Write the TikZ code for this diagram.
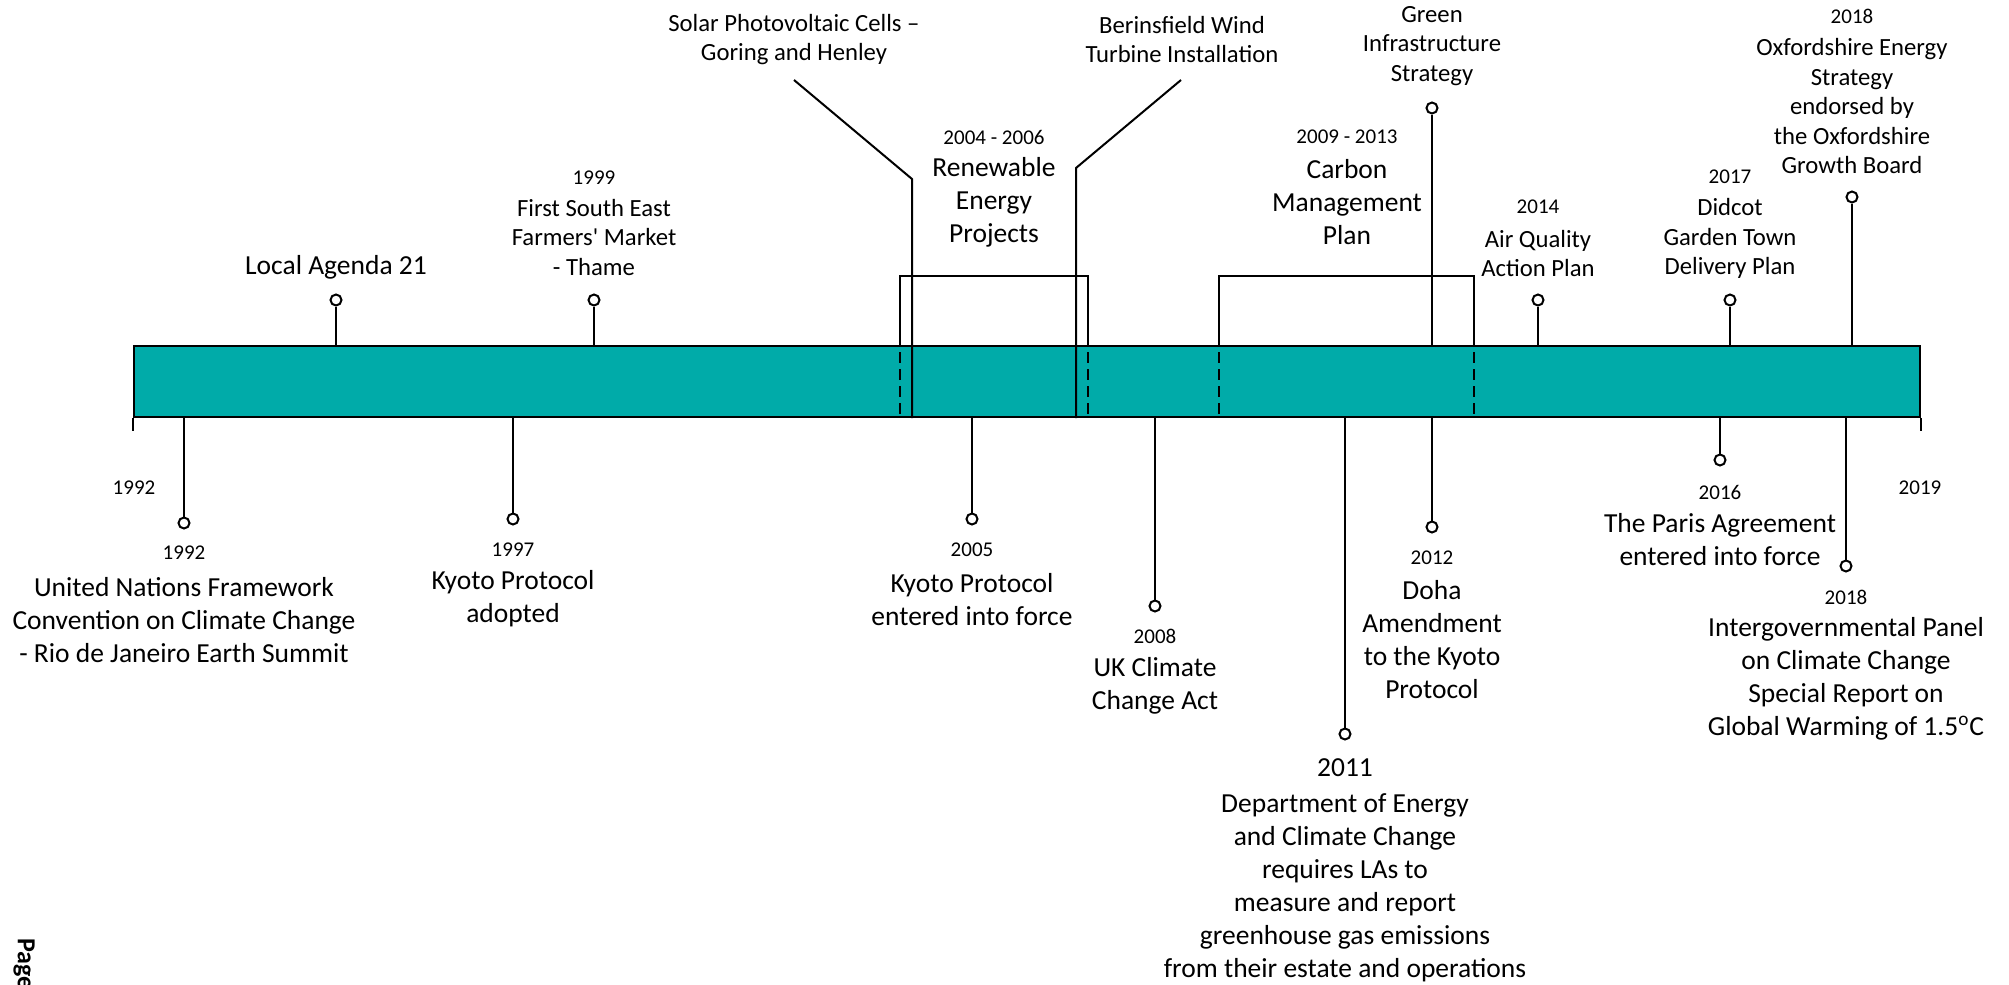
\documentclass[tikz,border=0pt]{standalone}
\usepackage{fontspec}
\setmainfont{Carlito}
\usepackage{tikz}
\definecolor{barteal}{RGB}{0,171,169}

\begin{document}
\begin{tikzpicture}[x=0.5pt, y=-0.5pt, line width=1pt]
		
		\tikzstyle{every node}=[inner sep=0pt]
		\tikzstyle{big}=[font=\fontsize{13.75}{16.5}\selectfont, align=center]
		\tikzstyle{mid}=[font=\fontsize{12.35}{14.75}\selectfont, align=center]
		\tikzstyle{yr}=[font=\fontsize{10.5}{12.6}\selectfont]
		\tikzstyle{pin}=[circle, draw, fill=white, minimum size=5.5pt]
		\tikzstyle{dashln}=[dash pattern=on 5.5pt off 3pt]
		
		\useasboundingbox (0,0) rectangle (2009,985);
		
		% the bar
		\node[draw, fill=barteal, minimum width=893pt, minimum height=35.5pt] (bar) at (1027,381.5) {};
		\draw (bar.south west) -- ++(0,13);
		\draw (bar.south east) -- ++(0,13);
		\node[yr] (start) at (134,488) {1992};
		\node[yr] (end) at (1920,488) {2019};
		
		% brackets
		\coordinate (ren1) at (900,335);
		\coordinate (ren2) at (1088,335);
		\draw (ren1) -- ++(0,-59) -| (ren2);
		\draw[dashln] (ren1) -- (ren1 |- bar.south);
		\draw[dashln] (ren2) -- (ren2 |- bar.south);
		\node[yr] (y0406) at (994,137) {2004 - 2006};
		\node[big] (renew) at (994,202.5) {Renewable\\Energy\\Projects};
		
		\coordinate (carb1) at (1219,335);
		\coordinate (carb2) at (1474,335);
		\draw (carb1) -- ++(0,-59) -| (carb2);
		\draw[dashln] (carb1) -- (carb1 |- bar.south);
		\draw[dashln] (carb2) -- (carb2 |- bar.south);
		\node[yr] (y0913) at (1347,137) {2009 - 2013};
		\node[big] (carbon) at (1347,202.5) {Carbon\\Management\\Plan};
		
		% solar and wind
		\node[mid] (solar) at (794,39.5) {Solar Photovoltaic Cells –\\Goring and Henley};
		\coordinate (solarA) at (794,80);
		\coordinate (solarB) at (912,179);
		\draw (solarA) -- (solarB) -- (solarB |- bar.south);
		
		\node[mid] (wind) at (1182,39.5) {Berinsfield Wind\\Turbine Installation};
		\coordinate (windA) at (1181,80);
		\coordinate (windB) at (1076,168);
		\draw (windA) -- (windB) -- (windB |- bar.south);
		
		% events above
		\node[pin] (pagenda) at (336,300) {};
		\draw (pagenda) -- (pagenda |- bar.north);
		\node[big] (agenda) at (336,267) {Local Agenda 21};
		
		\node[pin] (p1999) at (594,300) {};
		\draw (p1999) -- (p1999 |- bar.north);
		\node[yr] (y1999) at (594,178) {1999};
		\node[mid] (farmers) at (594,237.5) {First South East\\Farmers\textquotesingle\ Market\\- Thame};
		
		\node[pin] (pgreen) at (1432,108) {};
		\draw (pgreen) -- (pgreen |- bar.north);
		\node[mid] (green) at (1432,46) {Green\\Infrastructure\\Strategy};
		
		\node[pin] (p2014) at (1538,300) {};
		\draw (p2014) -- (p2014 |- bar.north);
		\node[yr] (y2014) at (1538,207) {2014};
		\node[mid] (air) at (1538,253.5) {Air Quality\\Action Plan};
		
		\node[pin] (p2017) at (1730,300) {};
		\draw (p2017) -- (p2017 |- bar.north);
		\node[yr] (y2017) at (1730,177) {2017};
		\node[mid] (didcot) at (1730,238.5) {Didcot\\Garden Town\\Delivery Plan};
		
		\node[pin] (p2018a) at (1852,197) {};
		\draw (p2018a) -- (p2018a |- bar.north);
		\node[yr] (y2018a) at (1852,16) {2018};
		\node[mid] (oxon) at (1852,106.5) {Oxfordshire Energy\\Strategy\\endorsed by\\the Oxfordshire\\Growth Board};
		
		% events below
		\node[pin] (p1992) at (184,523) {};
		\draw (p1992) -- (p1992 |- bar.south);
		\node[yr] (y1992) at (184,553) {1992};
		\node[big] (unfccc) at (184,620) {United Nations Framework\\Convention on Climate Change\\- Rio de Janeiro Earth Summit};
		
		\node[pin] (p1997) at (513,519) {};
		\draw (p1997) -- (p1997 |- bar.south);
		\node[yr] (y1997) at (513,550) {1997};
		\node[big] (kyotoA) at (513,599) {Kyoto Protocol\\adopted};
		
		\node[pin] (p2005) at (972,519) {};
		\draw (p2005) -- (p2005 |- bar.south);
		\node[yr] (y2005) at (972,550) {2005};
		\node[big] (kyotoB) at (972,599.5) {Kyoto Protocol\\entered into force};
		
		\node[pin] (p2008) at (1155,606) {};
		\draw (p2008) -- (p2008 |- bar.south);
		\node[yr] (y2008) at (1155,636) {2008};
		\node[big] (ukact) at (1155,685.5) {UK Climate\\Change Act};
		
		\node[pin] (p2011) at (1345,734) {};
		\draw (p2011) -- (p2011 |- bar.south);
		\node[big] (y2011) at (1345,768) {2011};
		\node[big] (decc) at (1345,887.5) {Department of Energy\\and Climate Change\\requires LAs to\\measure and report\\greenhouse gas emissions\\from their estate and operations};
		
		\node[pin] (p2012) at (1432,527) {};
		\draw (p2012) -- (p2012 |- bar.south);
		\node[yr] (y2012) at (1432,558) {2012};
		\node[big] (doha) at (1432,640) {Doha\\Amendment\\to the Kyoto\\Protocol};
		
		\node[pin] (p2016) at (1720,460) {};
		\draw (p2016) -- (p2016 |- bar.south);
		\node[yr] (y2016) at (1720,492) {2016};
		\node[big] (paris) at (1720,540) {The Paris Agreement\\entered into force};
		
		\node[pin] (p2018b) at (1846,566) {};
		\draw (p2018b) -- (p2018b |- bar.south);
		\node[yr] (y2018b) at (1846,597) {2018};
		\node[big] (ipcc) at (1846,679) {Intergovernmental Panel\\on Climate Change\\Special Report on\\Global Warming of 1.5\textsuperscript{o}C};
		
		% page margin
		\node[rotate=-90, anchor=base west, font=\bfseries\fontsize{13}{15.6}\selectfont] (page) at (18,937) {Page};
		
\end{tikzpicture}
\end{document}
